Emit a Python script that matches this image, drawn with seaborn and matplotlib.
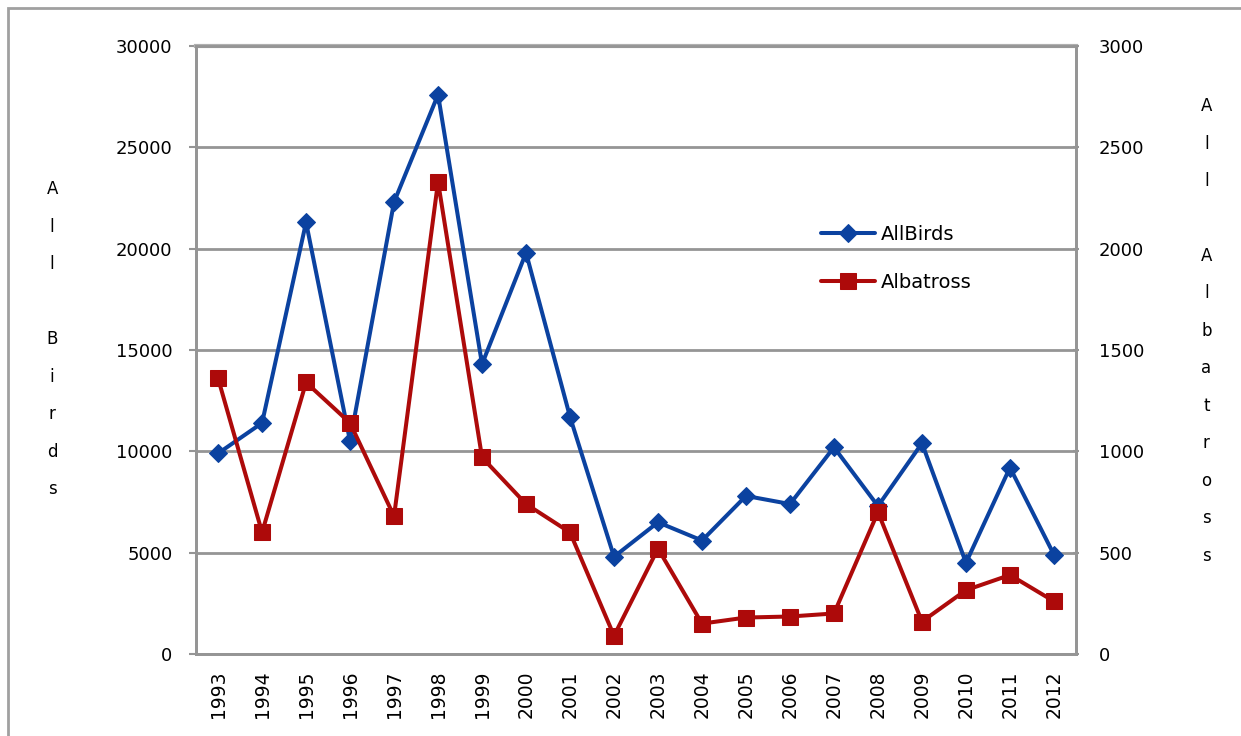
import numpy as np
import pandas as pd
import seaborn as sns
import matplotlib.pyplot as plt
from matplotlib.patches import Rectangle

years = [str(y) for y in range(1993, 2013)]
all_birds = [9900, 11400, 21300, 10500, 22300, 27600, 14300, 19800, 11700, 4800,
             6500, 5600, 7800, 7400, 10200, 7300, 10400, 4500, 9200, 4900]
albatross = [1360, 600, 1340, 1140, 680, 2330, 970, 740, 600, 90,
             520, 150, 180, 185, 200, 700, 160, 315, 390, 260]

blue = "#0b42a0"
red = "#ad0a0a"
grid_col = "#959595"

sns.set_style("white")
plt.rcParams["font.family"] = ["DejaVu Sans"]
plt.rcParams["text.color"] = "black"
plt.rcParams["xtick.labelcolor"] = "black"
plt.rcParams["ytick.labelcolor"] = "black"

df = pd.DataFrame({"pos": np.arange(len(years)), "birds": all_birds, "alb": albatross})

fig = plt.figure(figsize=(12.41, 7.36), dpi=100)
ax = fig.add_axes([0.158, 0.1114, 0.709, 0.8261])
ax2 = ax.twinx()

sns.lineplot(data=df, x="pos", y="birds", ax=ax, color=blue, lw=2.9,
             marker="D", markersize=9, markeredgecolor=blue, label="All Birds", zorder=3)
sns.lineplot(data=df, x="pos", y="alb", ax=ax2, color=red, lw=2.9,
             marker="s", markersize=12, markeredgecolor=red, label="Albatross", zorder=3)

ax.set_xlim(-0.5, len(years) - 0.5)
ax.set_ylim(0, 30000)
ax2.set_ylim(0, 3000)
ax.set_yticks(np.arange(0, 30001, 5000))
ax2.set_yticks(np.arange(0, 3001, 500))
ax.set_yticklabels([str(v) for v in range(0, 30001, 5000)], fontsize=13)
ax2.set_yticklabels([str(v) for v in range(0, 3001, 500)], fontsize=13)

ax.set_xticks(np.arange(len(years)))
ax.set_xticklabels(years, rotation=90, fontsize=13.5)
ax.tick_params(axis="x", length=0, pad=12)
ax.set_xticks(np.arange(-0.5, len(years)), minor=True)
ax.tick_params(axis="x", which="minor", length=9, width=1.5, color=grid_col, direction="out")
ax.tick_params(axis="y", length=5, width=1.5, color=grid_col, direction="out", pad=12)
ax2.tick_params(axis="y", length=5, width=1.5, color=grid_col, direction="inout", pad=14)

ax.yaxis.grid(True, color=grid_col, lw=2)
ax.xaxis.grid(False)
ax.set_xlabel("")
ax.set_ylabel("")
ax2.set_ylabel("")
for a in (ax, ax2):
    for s in a.spines.values():
        s.set_color(grid_col)
        s.set_linewidth(2)
ax.spines["top"].set_color("#b0b0b0")
ax.spines["top"].set_linewidth(3)

ax.get_legend().remove()
h1, l1 = ax.get_legend_handles_labels()
h2, l2 = ax2.get_legend_handles_labels()
ax2.legend(h1 + h2, ["AllBirds", "Albatross"], loc="upper left",
           bbox_to_anchor=(0.69, 0.735), frameon=False, fontsize=14,
           handlelength=2.8, labelspacing=1.5, handletextpad=0.3)

fig.text(0.042, 0.755, "A\nl\nl\n\nB\ni\nr\nd\ns", ha="center", va="top",
         fontsize=12, linespacing=2.39)
fig.text(0.972, 0.868, "A\nl\nl\n\nA\nl\nb\na\nt\nr\no\ns\ns", ha="center", va="top",
         fontsize=12, linespacing=2.39)

fig.patches.append(Rectangle((8 / 1241, -0.1), 1.2, 1.1 - 8 / 736,
                             transform=fig.transFigure, fill=False,
                             edgecolor="#a0a0a0", lw=2))

fig.savefig("out.png", dpi=100)
